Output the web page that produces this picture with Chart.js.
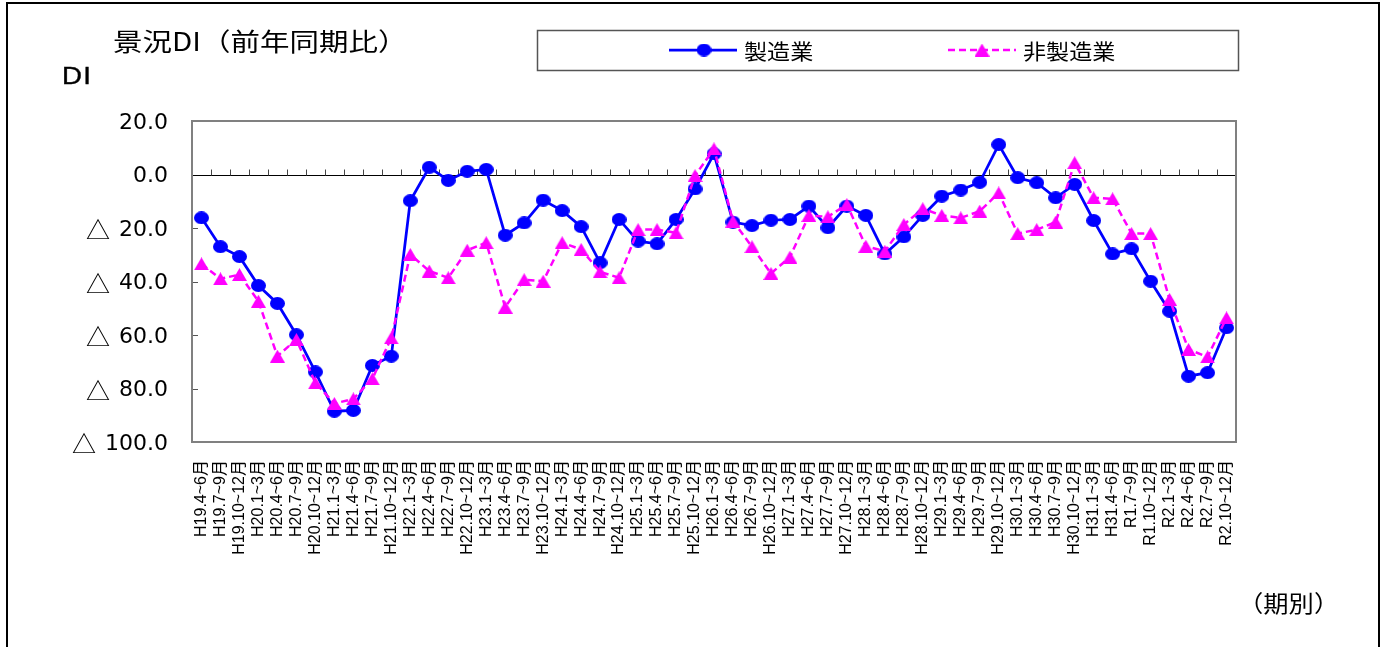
<!DOCTYPE html>
<html lang="ja">
<head>
<meta charset="utf-8">
<title>景況DI（前年同期比）</title>
<script src="https://cdn.jsdelivr.net/npm/chart.js@4.4.1/dist/chart.umd.min.js"></script>
<style>
  html, body { margin: 0; padding: 0; background: #fff; }
  #wrap { position: relative; width: 1387px; height: 647px; overflow: hidden; }
  #c { position: absolute; left: 0; top: 0; }
  #frame { position: absolute; left: 6px; top: 2px; width: 1374px; height: 700px;
           border: 2px solid #000; border-bottom: none; box-sizing: border-box; }
  .txt { position: absolute; white-space: nowrap; line-height: 1; color: #000; transform-origin: 0 0; }
  #title { left: 113px; top: 22px; font: 25px "Noto Sans CJK JP", sans-serif; transform: scaleX(1.18); }
  #unit  { left: 62px; top: 63px; font: 23px "Liberation Sans", sans-serif; transform: scaleX(1.2); letter-spacing: 1px; -webkit-text-stroke: 0.4px #000; }
  #period { left: 1238px; top: 585px; font: 23px "Noto Sans CJK JP", sans-serif; transform: scaleX(1.1); }
</style>
</head>
<body>
<div id="wrap">
  <canvas id="c" width="1387" height="647"></canvas>
  <div class="txt" id="title">景況DI（前年同期比）</div>
  <div class="txt" id="unit">DI</div>
  <div class="txt" id="period">（期別）</div>
  <div id="frame"></div>
</div>
<script>
// Survey periods (quarters)
const periods = [
  'H19.4~6月','H19.7~9月','H19.10~12月',
  'H20.1~3月','H20.4~6月','H20.7~9月','H20.10~12月',
  'H21.1~3月','H21.4~6月','H21.7~9月','H21.10~12月',
  'H22.1~3月','H22.4~6月','H22.7~9月','H22.10~12月',
  'H23.1~3月','H23.4~6月','H23.7~9月','H23.10~12月',
  'H24.1~3月','H24.4~6月','H24.7~9月','H24.10~12月',
  'H25.1~3月','H25.4~6月','H25.7~9月','H25.10~12月',
  'H26.1~3月','H26.4~6月','H26.7~9月','H26.10~12月',
  'H27.1~3月','H27.4~6月','H27.7~9月','H27.10~12月',
  'H28.1~3月','H28.4~6月','H28.7~9月','H28.10~12月',
  'H29.1~3月','H29.4~6月','H29.7~9月','H29.10~12月',
  'H30.1~3月','H30.4~6月','H30.7~9月','H30.10~12月',
  'H31.1~3月','H31.4~6月','R1.7~9月','R1.10~12月',
  'R2.1~3月','R2.4~6月','R2.7~9月','R2.10~12月'
];

// 製造業 DI
const manufacturing = [
  -16.2, -27.0, -30.7,
  -41.5, -48.2, -59.9, -73.8,
  -88.5, -88.2, -71.4, -67.9,
  -9.8, 2.7, -2.2, 1.2,
  1.9, -22.7, -18.1, -9.6,
  -13.5, -19.5, -33.0, -16.8,
  -24.9, -25.9, -16.8, -5.4,
  7.7, -17.8, -19.1, -17.1,
  -16.8, -11.8, -19.9, -11.8,
  -15.3, -29.7, -23.3, -15.3,
  -8.1, -5.8, -2.9, 11.2,
  -1.2, -3.1, -8.7, -3.7,
  -17.2, -29.7, -27.8, -39.9,
  -51.1, -75.4, -74.1, -57.3
];

// 非製造業 DI
const nonManufacturing = [
  -33.4, -39.0, -37.4,
  -47.4, -67.9, -61.7, -77.9,
  -85.6, -83.9, -76.4, -61.1,
  -29.9, -36.1, -38.6, -28.3,
  -25.5, -49.6, -39.3, -39.9,
  -25.5, -28.0, -36.4, -38.6,
  -20.6, -20.6, -21.8, -0.4,
  9.6, -17.4, -27.0, -37.0,
  -30.9, -15.3, -15.8, -11.2,
  -26.8, -28.7, -18.7, -12.8,
  -15.3, -16.2, -13.7, -6.9,
  -22.1, -20.6, -17.8, 4.4,
  -8.7, -9.1, -22.1, -22.1,
  -46.7, -65.4, -68.2, -53.6
];

// Value axis ticks; negative values are written with a leading △
const yTickValues = [20, 0, -20, -40, -60, -80, -100];

const seriesNames = ['製造業', '非製造業'];
const BLUE = '#0000FF';
const MAGENTA = '#FF00FF';

// Marker sprites, centred on the data point
function ellipseSprite(color, w, h) {
  const c = document.createElement('canvas');
  c.width = w; c.height = h;
  const g = c.getContext('2d');
  g.fillStyle = color;
  g.beginPath();
  g.ellipse(w / 2, h / 2, w / 2, h / 2, 0, 0, Math.PI * 2);
  g.fill();
  return c;
}
function triangleSprite(color, w, h) {
  const c = document.createElement('canvas');
  c.width = w; c.height = h;
  const g = c.getContext('2d');
  g.fillStyle = color;
  g.beginPath();
  g.moveTo(w / 2, 0);
  g.lineTo(w, h);
  g.lineTo(0, h);
  g.closePath();
  g.fill();
  return c;
}
const circleMark = ellipseSprite(BLUE, 15, 13);
const triangleMark = triangleSprite(MAGENTA, 15, 13);

// Plot frame, zero line with its small ticks, inner value ticks
const plotDecor = {
  id: 'plotDecor',
  beforeDatasetsDraw(chart) {
    const { ctx, chartArea: a, scales: { x, y } } = chart;
    ctx.save();
    const y0 = Math.round(y.getPixelForValue(0)) + 0.5;
    ctx.strokeStyle = '#000';
    ctx.lineWidth = 1;
    ctx.beginPath();
    ctx.moveTo(a.left, y0);
    ctx.lineTo(a.right, y0);
    ctx.stroke();
    ctx.strokeStyle = '#444';
    ctx.beginPath();
    for (let i = 0; i <= periods.length; i++) {
      const px = Math.round(x.getPixelForValue(i - 0.5)) + 0.5;
      ctx.moveTo(px, y0);
      ctx.lineTo(px, y0 - 6);
    }
    ctx.stroke();
    ctx.strokeStyle = '#555';
    ctx.beginPath();
    yTickValues.forEach(v => {
      if (v === 0 || v === yTickValues[0] || v === yTickValues[yTickValues.length - 1]) return;
      const py = Math.round(y.getPixelForValue(v)) + 0.5;
      ctx.moveTo(a.left, py);
      ctx.lineTo(a.left + 6, py);
    });
    ctx.stroke();
    ctx.lineWidth = 2;
    ctx.strokeStyle = '#808080';
    ctx.strokeRect(a.left, a.top, a.right - a.left, a.bottom - a.top);
    ctx.restore();
  }
};

// Value labels: number in a Latin face, the △ sign in a CJK face
const valueLabels = {
  id: 'valueLabels',
  afterDraw(chart) {
    const { ctx, chartArea: a, scales: { y } } = chart;
    const right = a.left - 24;
    ctx.save();
    ctx.fillStyle = '#000';
    ctx.textBaseline = 'middle';
    ctx.textAlign = 'right';
    y.ticks.forEach(t => {
      const v = t.value;
      const py = y.getPixelForValue(v) + 2;
      const num = Math.abs(v).toFixed(1);
      ctx.font = '22px "DejaVu Sans"';
      ctx.fillText(num, right, py);
      if (v < 0) {
        const w = ctx.measureText(num).width;
        ctx.font = '24px "Noto Sans CJK JP"';
        ctx.fillText('△', right - w - 9, py);
      }
    });
    ctx.restore();
  }
};

// Boxed legend: line sample with marker, then series name
const boxLegend = {
  id: 'boxLegend',
  afterDraw(chart) {
    const { ctx } = chart;
    const box = { left: 537, top: 30, right: 1238, bottom: 70 };
    const cy = (box.top + box.bottom) / 2;
    const items = [
      { x0: 669, x1: 737, mx: 704, tx: 744 },
      { x0: 948, x1: 1016, mx: 982, tx: 1023 }
    ];
    ctx.save();
    ctx.fillStyle = '#fff';
    ctx.fillRect(box.left, box.top, box.right - box.left, box.bottom - box.top);
    ctx.strokeStyle = '#555';
    ctx.lineWidth = 1.5;
    ctx.strokeRect(box.left + 0.5, box.top + 0.5, box.right - box.left, box.bottom - box.top);
    chart.data.datasets.forEach((ds, i) => {
      const it = items[i];
      ctx.strokeStyle = ds.borderColor;
      ctx.lineWidth = ds.borderWidth;
      ctx.setLineDash(ds.borderDash || []);
      ctx.beginPath();
      ctx.moveTo(it.x0, cy);
      ctx.lineTo(it.x1, cy);
      ctx.stroke();
      ctx.setLineDash([]);
      const m = ds.pointStyle;
      ctx.drawImage(m, it.mx - m.width / 2, cy - m.height / 2);
      ctx.save();
      ctx.translate(it.tx, cy);
      ctx.scale(1.1, 1);
      ctx.fillStyle = '#000';
      ctx.font = '21px "Noto Sans CJK JP"';
      ctx.textBaseline = 'middle';
      ctx.fillText(ds.label, 0, 1);
      ctx.restore();
    });
    ctx.restore();
  }
};

new Chart(document.getElementById('c'), {
  type: 'line',
  data: {
    labels: periods,
    datasets: [
      {
        label: seriesNames[0],
        data: manufacturing,
        borderColor: BLUE,
        backgroundColor: BLUE,
        borderWidth: 2.75,
        pointStyle: circleMark,
        tension: 0,
        fill: false,
        order: 2
      },
      {
        label: seriesNames[1],
        data: nonManufacturing,
        borderColor: MAGENTA,
        backgroundColor: MAGENTA,
        borderWidth: 2.5,
        borderDash: [7, 4],
        pointStyle: triangleMark,
        tension: 0,
        fill: false,
        order: 1
      }
    ]
  },
  options: {
    responsive: false,
    animation: false,
    events: [],
    devicePixelRatio: 1,
    layout: { padding: { left: 0, top: 121, right: 151, bottom: 0 } },
    plugins: {
      legend: { display: false },
      tooltip: { enabled: false },
      title: { display: false }
    },
    scales: {
      x: {
        type: 'category',
        offset: true,
        grid: { display: false, drawTicks: false },
        border: { display: false },
        ticks: {
          autoSkip: false,
          maxRotation: 90,
          minRotation: 90,
          padding: 18,
          color: '#000',
          font: { family: '"Liberation Sans", "Noto Sans CJK JP", sans-serif', size: 16 }
        },
        afterFit(s) { s.height = 205; }
      },
      y: {
        min: -100,
        max: 20,
        grid: { display: false, drawTicks: false },
        border: { display: false },
        afterBuildTicks(s) { s.ticks = yTickValues.map(v => ({ value: v })); },
        ticks: { display: false },
        afterFit(s) { s.width = 192; }
      }
    }
  },
  plugins: [plotDecor, valueLabels, boxLegend]
});
</script>
</body>
</html>
